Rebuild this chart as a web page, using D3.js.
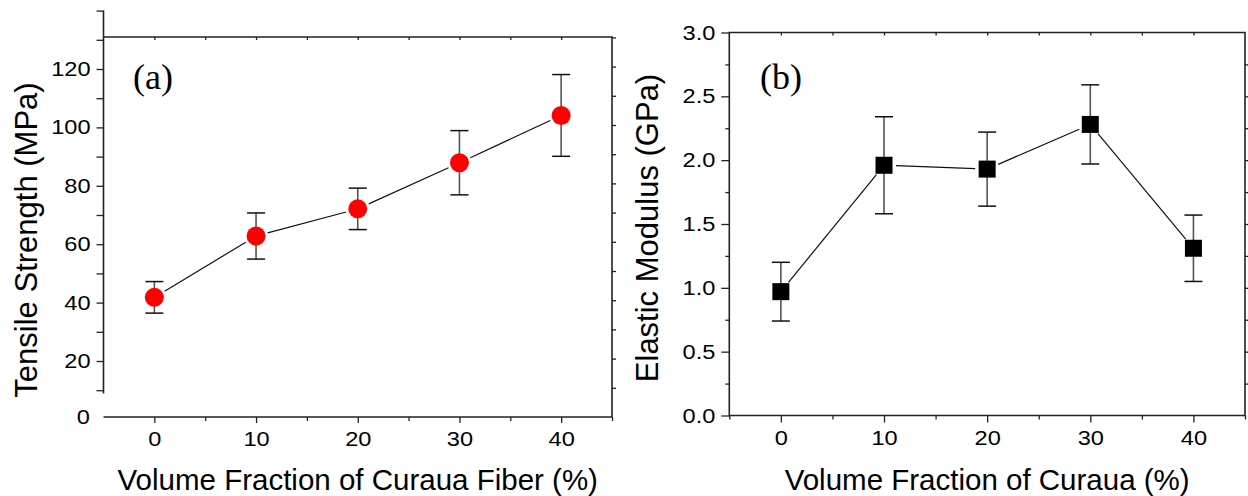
<!DOCTYPE html>
<meta charset="utf-8">
<head>
<title>Curaua composite properties</title>
<script src="https://cdn.jsdelivr.net/npm/d3@7"></script>
<style>
body { margin: 0; background: #fff; }
svg { display: block; }
.tick text, .tick-label { font-family: "Liberation Sans", Arial, sans-serif; font-size: 20.5px; fill: #000; }
.tick line { stroke: #222; stroke-width: 1.3px; }
.axis-title { font-family: "Liberation Sans", Arial, sans-serif; font-size: 29.5px; fill: #000; }
.y-title { font-size: 31px; }
.panel-label { font-family: "Liberation Serif", "Times New Roman", serif; font-size: 36px; fill: #000; }
.frame { stroke: #222; stroke-width: 1.6px; fill: none; }
</style>
</head>
<body>
<script>
// Data
const fiberFraction = [0, 10, 20, 30, 40];
const tensileStrength = [41.8, 62.8, 72.1, 87.9, 104.1];
const tensileError = [5.4, 7.9, 7.1, 11.0, 14.0];
const elasticModulus = [0.97, 1.96, 1.93, 2.28, 1.31];
const modulusError = [0.23, 0.38, 0.29, 0.31, 0.26];

const width = 1248, height = 496;

const svg = d3.select("body")
    .append("svg")
    .attr("width", width)
    .attr("height", height);

// tick labels in the original are a bit wider than plain Arial
function widen(sel) {
    sel.each(function() {
        const len = this.getComputedTextLength();
        if (len > 0) {
            d3.select(this)
                .attr("textLength", len * 1.15)
                .attr("lengthAdjust", "spacingAndGlyphs");
        }
    });
}

// ---------- panel (a) ----------
const xA = d3.scaleLinear().domain([-5, 45]).range([103.5, 612]);
const yA = d3.scaleLinear().domain([0, 140]).range([419.4, 10.6]);
const yAright = d3.scaleLinear().domain([0, 140]).range([417, 8.2]);
const bottomA = 417, topA = 37;

const gA = svg.append("g");

// frame: top + right + bottom
gA.append("path").attr("class", "frame")
    .attr("d", `M${xA(-5)},${topA}H${xA(45)}V${bottomA}H${xA(-5)}`);
// broken left axis
gA.append("line").attr("class", "frame")
    .attr("x1", xA(-5)).attr("x2", xA(-5))
    .attr("y1", yA(140)).attr("y2", 393.5);

gA.append("g")
    .attr("transform", `translate(${xA(-5)},0)`)
    .call(d3.axisLeft(yA)
        .tickValues(d3.range(10, 141, 10))
        .tickSize(7).tickPadding(6)
        .tickFormat(d => (d % 20 === 0 && d <= 120) ? d : ""))
    .call(g => g.select(".domain").remove());

// "0" at the bottom of the broken axis
gA.append("text")
    .attr("class", "tick-label")
    .attr("x", 90).attr("y", bottomA)
    .attr("dy", "0.35em")
    .attr("text-anchor", "end")
    .text("0");

// right inward ticks
gA.append("g")
    .attr("transform", `translate(${xA(45)},0)`)
    .call(d3.axisLeft(yAright).tickValues(d3.range(10, 131, 10)).tickSize(-4).tickFormat(""))
    .call(g => g.select(".domain").remove());

// bottom axis (majors + minors)
gA.append("g")
    .attr("transform", `translate(0,${bottomA})`)
    .call(d3.axisBottom(xA).tickValues(fiberFraction).tickSize(6).tickPadding(8))
    .call(g => g.select(".domain").remove());
gA.append("g")
    .attr("transform", `translate(0,${bottomA})`)
    .call(d3.axisBottom(xA).tickValues([5, 15, 25, 35, 45]).tickSize(4).tickFormat(""))
    .call(g => g.select(".domain").remove());

// top inward ticks
gA.append("g")
    .attr("transform", `translate(0,${topA})`)
    .call(d3.axisTop(xA).tickValues(d3.range(0, 41, 5)).tickSize(-3).tickFormat(""))
    .call(g => g.select(".domain").remove());

gA.append("text").attr("class", "axis-title")
    .attr("x", (xA(-5) + xA(45)) / 2).attr("y", 490)
    .attr("text-anchor", "middle")
    .text("Volume Fraction of Curaua Fiber (%)");
gA.append("text").attr("class", "axis-title y-title")
    .attr("transform", "translate(37,240) rotate(-90)")
    .attr("text-anchor", "middle")
    .text("Tensile Strength (MPa)");
gA.append("text").attr("class", "panel-label")
    .attr("x", 133).attr("y", 89)
    .text("(a)");

// ---------- panel (b) ----------
const xB = d3.scaleLinear().domain([-5, 45]).range([729.3, 1245]);
const yB = d3.scaleLinear().domain([0, 3]).range([415.5, 32.5]);

const gB = svg.append("g");

gB.append("path").attr("class", "frame")
    .attr("d", `M${xB(-5)},${yB(0)}V${yB(3)}H${xB(45)}V${yB(0)}Z`);

gB.append("g")
    .attr("transform", `translate(${xB(-5)},0)`)
    .call(d3.axisLeft(yB).tickValues(d3.range(0, 3.01, 0.5)).tickSize(8).tickPadding(6)
        .tickFormat(d3.format(".1f")))
    .call(g => g.select(".domain").remove());
gB.append("g")
    .attr("transform", `translate(${xB(-5)},0)`)
    .call(d3.axisLeft(yB).tickValues(d3.range(0.25, 3, 0.5)).tickSize(4).tickFormat(""))
    .call(g => g.select(".domain").remove());

gB.append("g")
    .attr("transform", `translate(${xB(45)},0)`)
    .call(d3.axisLeft(yB).tickValues(d3.range(0.25, 2.9, 0.25)).tickSize(-4).tickFormat(""))
    .call(g => g.select(".domain").remove());

gB.append("g")
    .attr("transform", `translate(0,${yB(0)})`)
    .call(d3.axisBottom(xB).tickValues(fiberFraction).tickSize(7).tickPadding(8))
    .call(g => g.select(".domain").remove());
gB.append("g")
    .attr("transform", `translate(0,${yB(0)})`)
    .call(d3.axisBottom(xB).tickValues([-5, 5, 15, 25, 35, 45]).tickSize(4).tickFormat(""))
    .call(g => g.select(".domain").remove());

gB.append("g")
    .attr("transform", `translate(0,${yB(3)})`)
    .call(d3.axisTop(xB).tickValues(d3.range(0, 41, 5)).tickSize(-3).tickFormat(""))
    .call(g => g.select(".domain").remove());

gB.append("text").attr("class", "axis-title")
    .attr("x", (xB(-5) + xB(45)) / 2).attr("y", 490)
    .attr("text-anchor", "middle")
    .text("Volume Fraction of Curaua (%)");
gB.append("text").attr("class", "axis-title y-title")
    .attr("transform", "translate(658,228) rotate(-90)")
    .attr("text-anchor", "middle")
    .text("Elastic Modulus (GPa)");
gB.append("text").attr("class", "panel-label")
    .attr("x", 760).attr("y", 89)
    .text("(b)");

svg.selectAll(".tick text, .tick-label").call(widen);

// ---------- series ----------
function drawSeries(g, xs, ys, vals, errs, gap, marker) {
    const pts = xs.map((d, i) => [xScaleOf(g)(d), ys(vals[i])]);
    // connecting line with small gaps at the markers
    for (let i = 0; i < pts.length - 1; i++) {
        const [x1, y1] = pts[i], [x2, y2] = pts[i + 1];
        const len = Math.hypot(x2 - x1, y2 - y1);
        const ux = (x2 - x1) / len, uy = (y2 - y1) / len;
        g.append("line")
            .attr("x1", x1 + ux * gap).attr("y1", y1 + uy * gap)
            .attr("x2", x2 - ux * gap).attr("y2", y2 - uy * gap)
            .attr("stroke", "#111").attr("stroke-width", 1.2);
    }
    // error bars
    const eb = g.selectAll(null).data(xs).enter().append("g");
    eb.append("line")
        .attr("x1", (d, i) => pts[i][0]).attr("x2", (d, i) => pts[i][0])
        .attr("y1", (d, i) => ys(vals[i] + errs[i])).attr("y2", (d, i) => ys(vals[i] - errs[i]))
        .attr("stroke", "#555").attr("stroke-width", 1.6);
    [1, -1].forEach(s => {
        eb.append("line")
            .attr("x1", (d, i) => pts[i][0] - 9).attr("x2", (d, i) => pts[i][0] + 9)
            .attr("y1", (d, i) => ys(vals[i] + s * errs[i])).attr("y2", (d, i) => ys(vals[i] + s * errs[i]))
            .attr("stroke", "#111").attr("stroke-width", 1.5);
    });
    marker(g, pts);
}

const xOf = new Map([[gA, xA], [gB, xB]]);
function xScaleOf(g) { return xOf.get(g); }

drawSeries(gA, fiberFraction, yA, tensileStrength, tensileError, 12, (g, pts) => {
    g.selectAll(null).data(pts).enter().append("circle")
        .attr("cx", d => d[0]).attr("cy", d => d[1]).attr("r", 9.5)
        .attr("fill", "#ff0000");
});

drawSeries(gB, fiberFraction, yB, elasticModulus, modulusError, 12, (g, pts) => {
    g.selectAll(null).data(pts).enter().append("rect")
        .attr("x", d => d[0] - 8.5).attr("y", d => d[1] - 8.5)
        .attr("width", 17).attr("height", 17)
        .attr("fill", "#000");
});
</script>
</body>
</html>
